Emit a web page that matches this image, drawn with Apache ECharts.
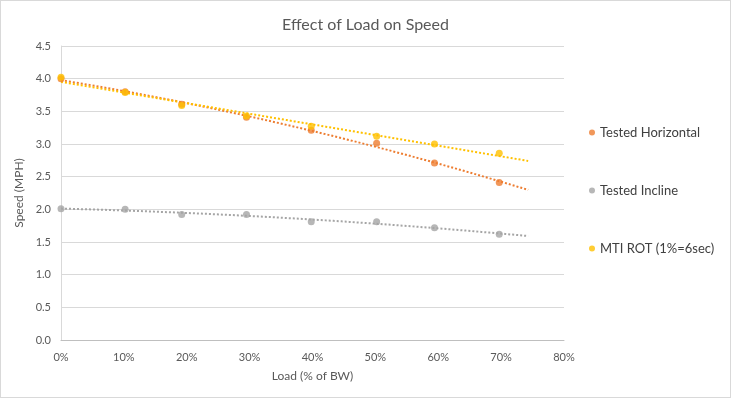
<!DOCTYPE html>
<html><head><meta charset="utf-8">
<script src="https://cdn.jsdelivr.net/npm/echarts@6/dist/echarts.min.js"></script>
<style>html,body{margin:0;padding:0;background:#fff}#c{width:731px;height:398px;box-sizing:border-box;border:1px solid #d9d9d9}</style>
</head><body><div id="c"></div>
<script>
const loadPct = [0, 10.2, 19.2, 29.5, 39.8, 50.2, 59.4, 69.7];
const horizontal = [4.00, 3.80, 3.61, 3.41, 3.21, 3.01, 2.71, 2.41];
const incline = [2.01, 2.00, 1.92, 1.92, 1.81, 1.81, 1.72, 1.62];
const mtiRot = [4.02, 3.79, 3.59, 3.43, 3.27, 3.12, 3.00, 2.86];
const seriesNames = ['Tested Horizontal', 'Tested Incline', 'MTI ROT (1%=6sec)'];
const xTicks = ['0%','10%','20%','30%','40%','50%','60%','70%','80%'];
const trendEnd = 74.3;

function polyfit(xs, ys, order){
  const n = order + 1;
  const A = [], b = [];
  for (let i=0;i<n;i++){ A.push(new Array(n).fill(0)); b.push(0); }
  xs.forEach((x,k)=>{
    for (let i=0;i<n;i++){
      b[i] += ys[k]*Math.pow(x,i);
      for (let j=0;j<n;j++) A[i][j] += Math.pow(x,i+j);
    }
  });
  for (let i=0;i<n;i++){
    let p=i; for (let r=i+1;r<n;r++) if (Math.abs(A[r][i])>Math.abs(A[p][i])) p=r;
    [A[i],A[p]]=[A[p],A[i]]; [b[i],b[p]]=[b[p],b[i]];
    for (let r=i+1;r<n;r++){ const f=A[r][i]/A[i][i]; for(let c=i;c<n;c++) A[r][c]-=f*A[i][c]; b[r]-=f*b[i]; }
  }
  const c = new Array(n).fill(0);
  for (let i=n-1;i>=0;i--){ let s=b[i]; for(let j=i+1;j<n;j++) s-=A[i][j]*c[j]; c[i]=s/A[i][i]; }
  return c;
}
function trend(ys, order){
  const c = polyfit(loadPct, ys, order);
  const pts = [];
  for (let i=0;i<=60;i++){
    const x = trendEnd*i/60;
    let y=0; c.forEach((ci,k)=>{ y += ci*Math.pow(x,k); });
    pts.push([x,y]);
  }
  return pts;
}
const colors = ['#ED7D31', '#A5A5A5', '#FFC000'];
const dataSets = [horizontal, incline, mtiRot];
const orders = [2, 2, 1];
const font = 'Lato, "Open Sans", sans-serif';

const series = [];
dataSets.forEach((ys, i)=>{
  series.push({
    name: seriesNames[i] + ' trend', type: 'line', data: trend(ys, orders[i]),
    showSymbol: false, smooth: false, silent: true, z: 1,
    lineStyle: {color: colors[i], width: 2, type: [2, 2]}
  });
});
dataSets.forEach((ys, i)=>{
  series.push({
    name: seriesNames[i], type: 'scatter', z: 3,
    data: loadPct.map((x,k)=>[x, ys[k]]),
    symbolSize: 7, itemStyle: {color: colors[i]}
  });
});

const chart = echarts.init(document.getElementById('c'));
chart.setOption({
  animation: false,
  textStyle: {fontFamily: font},
  title: {text: 'Effect of Load on Speed', left: 'center', top: 11,
    textStyle: {fontFamily: font, fontSize: 16, fontWeight: 'normal', color: '#595959'}},
  legend: {
    data: seriesNames, orient: 'vertical', left: 583, top: 120, itemGap: 45,
    icon: 'circle', itemWidth: 6, itemHeight: 6,
    textStyle: {fontFamily: font, fontSize: 13, color: '#404040'}
  },
  grid: {left: 60, right: 166, top: 45, bottom: 57},
  xAxis: {
    type: 'value', min: 0, max: 80, interval: 10,
    name: 'Load (% of BW)', nameLocation: 'middle', nameGap: 30,
    nameTextStyle: {fontFamily: font, fontSize: 12, color: '#595959'},
    axisLine: {show: true, lineStyle: {color: '#bfbfbf'}},
    axisTick: {show: false},
    splitLine: {show: false},
    axisLabel: {fontSize: 11, color: '#595959', margin: 12,
      formatter: v => xTicks[Math.round(v/10)]}
  },
  yAxis: {
    type: 'value', min: 0, max: 4.5, interval: 0.5,
    name: 'Speed (MPH)', nameLocation: 'middle', nameGap: 31, nameRotate: 90,
    nameTextStyle: {fontFamily: font, fontSize: 12, color: '#595959'},
    axisLine: {show: true, lineStyle: {color: '#d9d9d9'}},
    axisTick: {show: false},
    splitLine: {lineStyle: {color: '#d9d9d9'}},
    axisLabel: {fontSize: 11, color: '#595959', margin: 10, formatter: v => v.toFixed(1)}
  },
  series: series
});
</script></body></html>
